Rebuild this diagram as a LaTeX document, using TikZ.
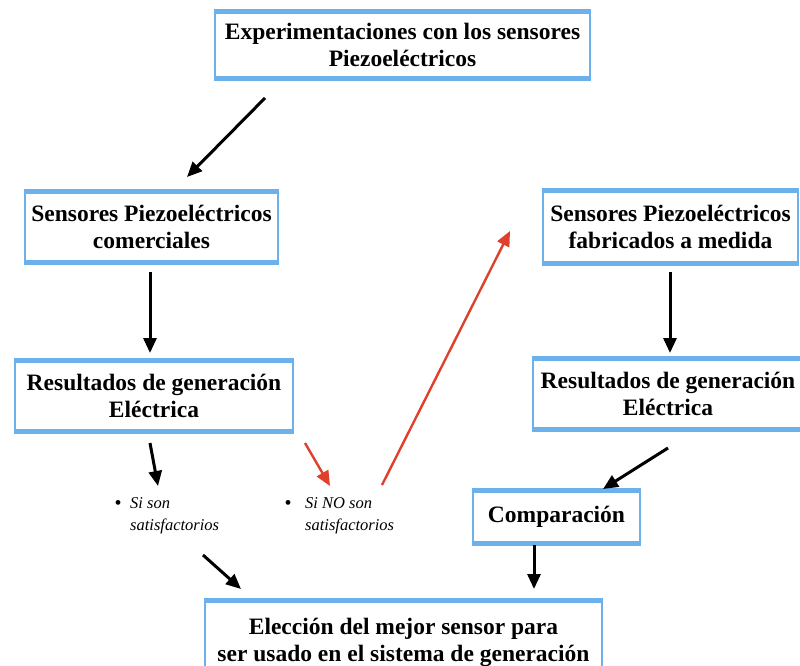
\documentclass[tikz,border=0pt]{standalone}
\usepackage{fontspec}
\setmainfont{Liberation Serif}
\usetikzlibrary{arrows.meta}
\definecolor{boxblue}{RGB}{108,176,236}
\definecolor{arrred}{RGB}{222,64,44}
\tikzset{
  stepbox/.style={fill=white, draw=boxblue, line width=2.6pt, inner sep=0pt,
    align=center, font=\fontsize{23.5}{27}\selectfont\bfseries},
  arr/.style={line width=3pt, -{Triangle[length=15pt,width=13pt]}},
  redarr/.style={arr, arrred, line width=2.4pt},
  item/.style={anchor=west, inner sep=0pt, align=left,
    font=\fontsize{16.5}{22}\selectfont\itshape},
  dot/.style={inner sep=0pt, font=\fontsize{20}{22}\selectfont},
}
% top and bottom edges of a box are drawn heavier
\newcommand{\heavyedges}[1]{%
  \draw[boxblue, line width=5pt] (#1.north west) -- (#1.north east);
  \draw[boxblue, line width=5pt] (#1.south west) -- (#1.south east);}
\begin{document}
\begin{tikzpicture}[x=1pt, y=-1pt]
\useasboundingbox (0,0) rectangle (800,666);

% boxes
\node[stepbox, minimum width=375pt, minimum height=65pt] (exp) at (402.5,45)
  {Experimentaciones con los sensores\\Piezoeléctricos};
\node[stepbox, minimum width=253pt, minimum height=69pt] (com) at (151.5,227)
  {Sensores Piezoeléctricos\\comerciales};
\node[stepbox, minimum width=278pt, minimum height=68pt] (resl) at (154,396)
  {Resultados de generación\\Eléctrica};
\node[stepbox, minimum width=255pt, minimum height=70pt] (fab) at (670.5,227)
  {Sensores Piezoeléctricos\\fabricados a medida};
\node[stepbox, minimum width=270pt, minimum height=68pt] (resr) at (668,394)
  {Resultados de generación\\Eléctrica};
\node[stepbox, minimum width=167pt, minimum height=50pt] (cmp) at (556.5,517)
  {Comparación};
\node[stepbox, minimum width=397pt, minimum height=80pt] (ele) at (403.5,642)
  {Elección del mejor sensor para\\ser usado en el sistema de generación};
\foreach \b in {exp,com,resl,fab,resr,cmp,ele} {\heavyedges{\b}}

% outcome items
\node[dot] (d1) at (118,505) {•};
\node[item] (si) at (130,516) {Si son\\satisfactorios};
\node[dot] (d2) at (288,505) {•};
\node[item] (sino) at (305,516) {Si NO son\\satisfactorios};

% connector end points
\coordinate (a1s) at (265,98);   \coordinate (a1e) at (187,177);
\coordinate (a2s) at (150,272);  \coordinate (a2e) at (150,353);
\coordinate (a3s) at (150,443);  \coordinate (a3e) at (158,486);
\coordinate (a4s) at (305,443);  \coordinate (a4e) at (330,486);
\coordinate (a5s) at (382,485);  \coordinate (a5e) at (510,231);
\coordinate (a6s) at (670,272);  \coordinate (a6e) at (670,353);
\coordinate (a7s) at (668,448);  \coordinate (a7e) at (603,489);
\coordinate (a8s) at (203,555);  \coordinate (a8e) at (241,589);
\coordinate (a9s) at (534,545);  \coordinate (a9e) at (534,589);

\draw[arr] (a1s) -- (a1e);
\draw[arr] (a2s) -- (a2e);
\draw[arr] (a3s) -- (a3e);
\draw[redarr] (a4s) -- (a4e);
\draw[redarr] (a5s) -- (a5e);
\draw[arr] (a6s) -- (a6e);
\draw[arr] (a7s) -- (a7e);
\draw[arr] (a8s) -- (a8e);
\draw[arr] (a9s) -- (a9e);
\end{tikzpicture}
\end{document}
